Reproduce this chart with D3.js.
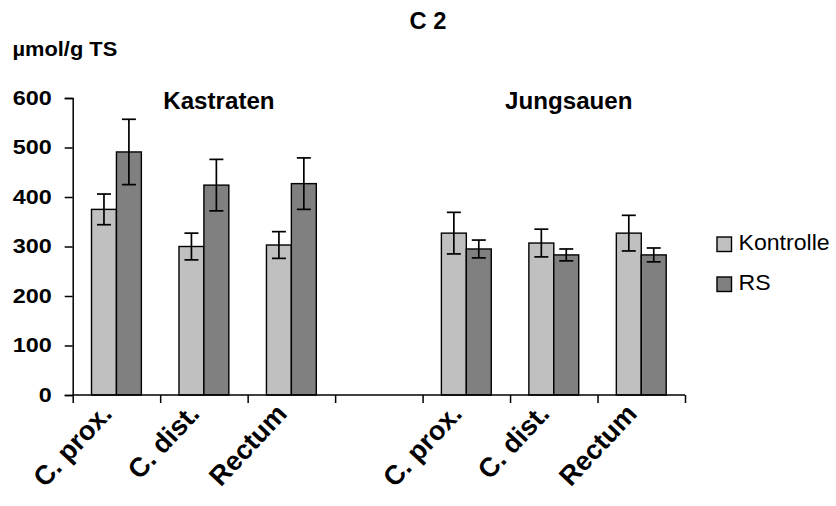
<!DOCTYPE html>
<html>
<head>
<meta charset="utf-8">
<script src="https://cdn.jsdelivr.net/npm/d3@7"></script>
<style>
  body { margin: 0; background: #fff; }
  svg text { font-family: Arial, "Liberation Sans", sans-serif; fill: #000; }
</style>
</head>
<body>
<svg width="836" height="506"></svg>
<script>
const svg = d3.select("svg");

// categories along the x axis (slot 3 is the empty gap between the two groups)
const categories = ["C. prox.", "C. dist.", "Rectum", "", "C. prox.", "C. dist.", "Rectum"];
const series = ["Kontrolle", "RS"];
const colors = ["#c0c0c0", "#808080"];
const kontrolle = [375, 300, 303, null, 327, 307, 327];
const kontrolleErr = [31, 27, 27, null, 42, 28, 36];
const rs = [491, 424, 427, null, 295, 283, 283];
const rsErr = [66, 52, 52, null, 18, 12, 14];
const yTicks = [0, 100, 200, 300, 400, 500, 600];
const groupLabels = [{ name: "Kastraten", at: 1 }, { name: "Jungsauen", at: 5 }];

// the original picture is a bit stretched sideways, so texts get a small x scale
const stretch = 1.12;

const margin = { left: 72.7, top: 98, right: 836 - 685, bottom: 506 - 395 };
const innerWidth = 685 - margin.left;
const innerHeight = 395 - margin.top;

const g = svg.append("g")
    .attr("transform", `translate(${margin.left}, ${margin.top})`);

const xScale = d3.scaleBand()
    .domain(d3.range(categories.length))
    .range([0, innerWidth])
    .paddingInner(0.43)
    .paddingOuter(0.215);

const xSub = d3.scaleBand()
    .domain(series)
    .range([0, xScale.bandwidth()]);

const yScale = d3.scaleLinear()
    .domain([0, 600])
    .range([innerHeight, 0]);

// bars
const rows = [];
categories.forEach((c, i) => {
    if (kontrolle[i] == null) return;
    rows.push({ i, s: "Kontrolle", v: kontrolle[i], e: kontrolleErr[i], c: colors[0] });
    rows.push({ i, s: "RS", v: rs[i], e: rsErr[i], c: colors[1] });
});

g.selectAll("rect.bar").data(rows)
    .enter().append("rect")
        .attr("class", "bar")
        .attr("x", d => xScale(d.i) + xSub(d.s))
        .attr("y", d => yScale(d.v))
        .attr("width", xSub.bandwidth())
        .attr("height", d => innerHeight - yScale(d.v))
        .attr("fill", d => d.c)
        .attr("stroke", "#000")
        .attr("stroke-width", 1.4);

// error bars
const eb = g.selectAll("g.err").data(rows)
    .enter().append("g")
        .attr("class", "err")
        .attr("stroke", "#000")
        .attr("stroke-width", 1.7);
const cx = d => xScale(d.i) + xSub(d.s) + xSub.bandwidth() / 2;
eb.append("line")
    .attr("x1", cx).attr("x2", cx)
    .attr("y1", d => yScale(d.v + d.e))
    .attr("y2", d => yScale(d.v - d.e));
eb.append("line")
    .attr("x1", d => cx(d) - 7).attr("x2", d => cx(d) + 7)
    .attr("y1", d => yScale(d.v + d.e)).attr("y2", d => yScale(d.v + d.e));
eb.append("line")
    .attr("x1", d => cx(d) - 7).attr("x2", d => cx(d) + 7)
    .attr("y1", d => yScale(d.v - d.e)).attr("y2", d => yScale(d.v - d.e));

// y axis
const yAxis = g.append("g")
    .call(d3.axisLeft(yScale).tickValues(yTicks).tickSize(8));
yAxis.select(".domain").attr("stroke-width", 1.5);
yAxis.selectAll(".tick line").attr("stroke-width", 1.5);
yAxis.selectAll("text")
    .attr("x", 0)
    .attr("transform", "translate(-21, 0) scale(1.17, 1)")
    .attr("font-size", 20).attr("font-weight", "bold")
    .attr("font-family", "Arial, 'Liberation Sans', sans-serif");

// x axis: ticks on category boundaries
const boundaries = d3.range(categories.length + 1).map(i => i * xScale.step());
const xLin = d3.scaleLinear().domain([0, innerWidth]).range([0, innerWidth]);
const xAxis = g.append("g")
    .attr("transform", `translate(0, ${innerHeight})`)
    .call(d3.axisBottom(xLin).tickValues(boundaries).tickSize(8).tickFormat(""));
xAxis.select(".domain").attr("stroke-width", 1.5).attr("d", `M0,0H${innerWidth}`);
xAxis.selectAll(".tick line").attr("stroke-width", 1.5);

// category labels, rotated (the lower ends run off the picture, as in the original)
g.selectAll("text.cat").data(categories)
    .enter().append("text")
        .attr("class", "cat")
        .attr("transform", (d, i) =>
            `translate(${xScale(i) + xScale.bandwidth() / 2 - 3}, ${innerHeight + 20}) rotate(-47)`)
        .attr("text-anchor", "end")
        .attr("font-size", 27)
        .attr("font-weight", "bold")
        .text(d => d);

// group labels
g.selectAll("text.grp").data(groupLabels)
    .enter().append("text")
        .attr("class", "grp")
        .attr("transform", d =>
            `translate(${xScale(d.at) + xScale.bandwidth() / 2 + 15}, ${yScale(600) + 11}) scale(1.05, 1)`)
        .attr("text-anchor", "middle")
        .attr("font-size", 23)
        .attr("font-weight", "bold")
        .text(d => d.name);

// title and unit
svg.append("text")
    .attr("transform", `translate(428, 29) scale(1.03, 1)`)
    .attr("text-anchor", "middle")
    .attr("font-size", 23).attr("font-weight", "bold")
    .text("C 2");
svg.append("text")
    .attr("transform", `translate(12.5, 55.5) scale(${stretch}, 1)`)
    .attr("font-size", 19.5).attr("font-weight", "bold")
    .text("µmol/g TS");

// legend
const legend = svg.append("g").attr("transform", "translate(717, 237)");
const li = legend.selectAll("g").data(series)
    .enter().append("g")
        .attr("transform", (d, i) => `translate(0, ${i * 40})`);
li.append("rect")
    .attr("width", 14.5).attr("height", 14.5)
    .attr("fill", (d, i) => colors[i])
    .attr("stroke", "#000").attr("stroke-width", 1.4);
li.append("text")
    .attr("transform", "translate(21.5, 12.5) scale(1.05, 1)")
    .attr("font-size", 22)
    .text(d => d);
</script>
</body>
</html>
